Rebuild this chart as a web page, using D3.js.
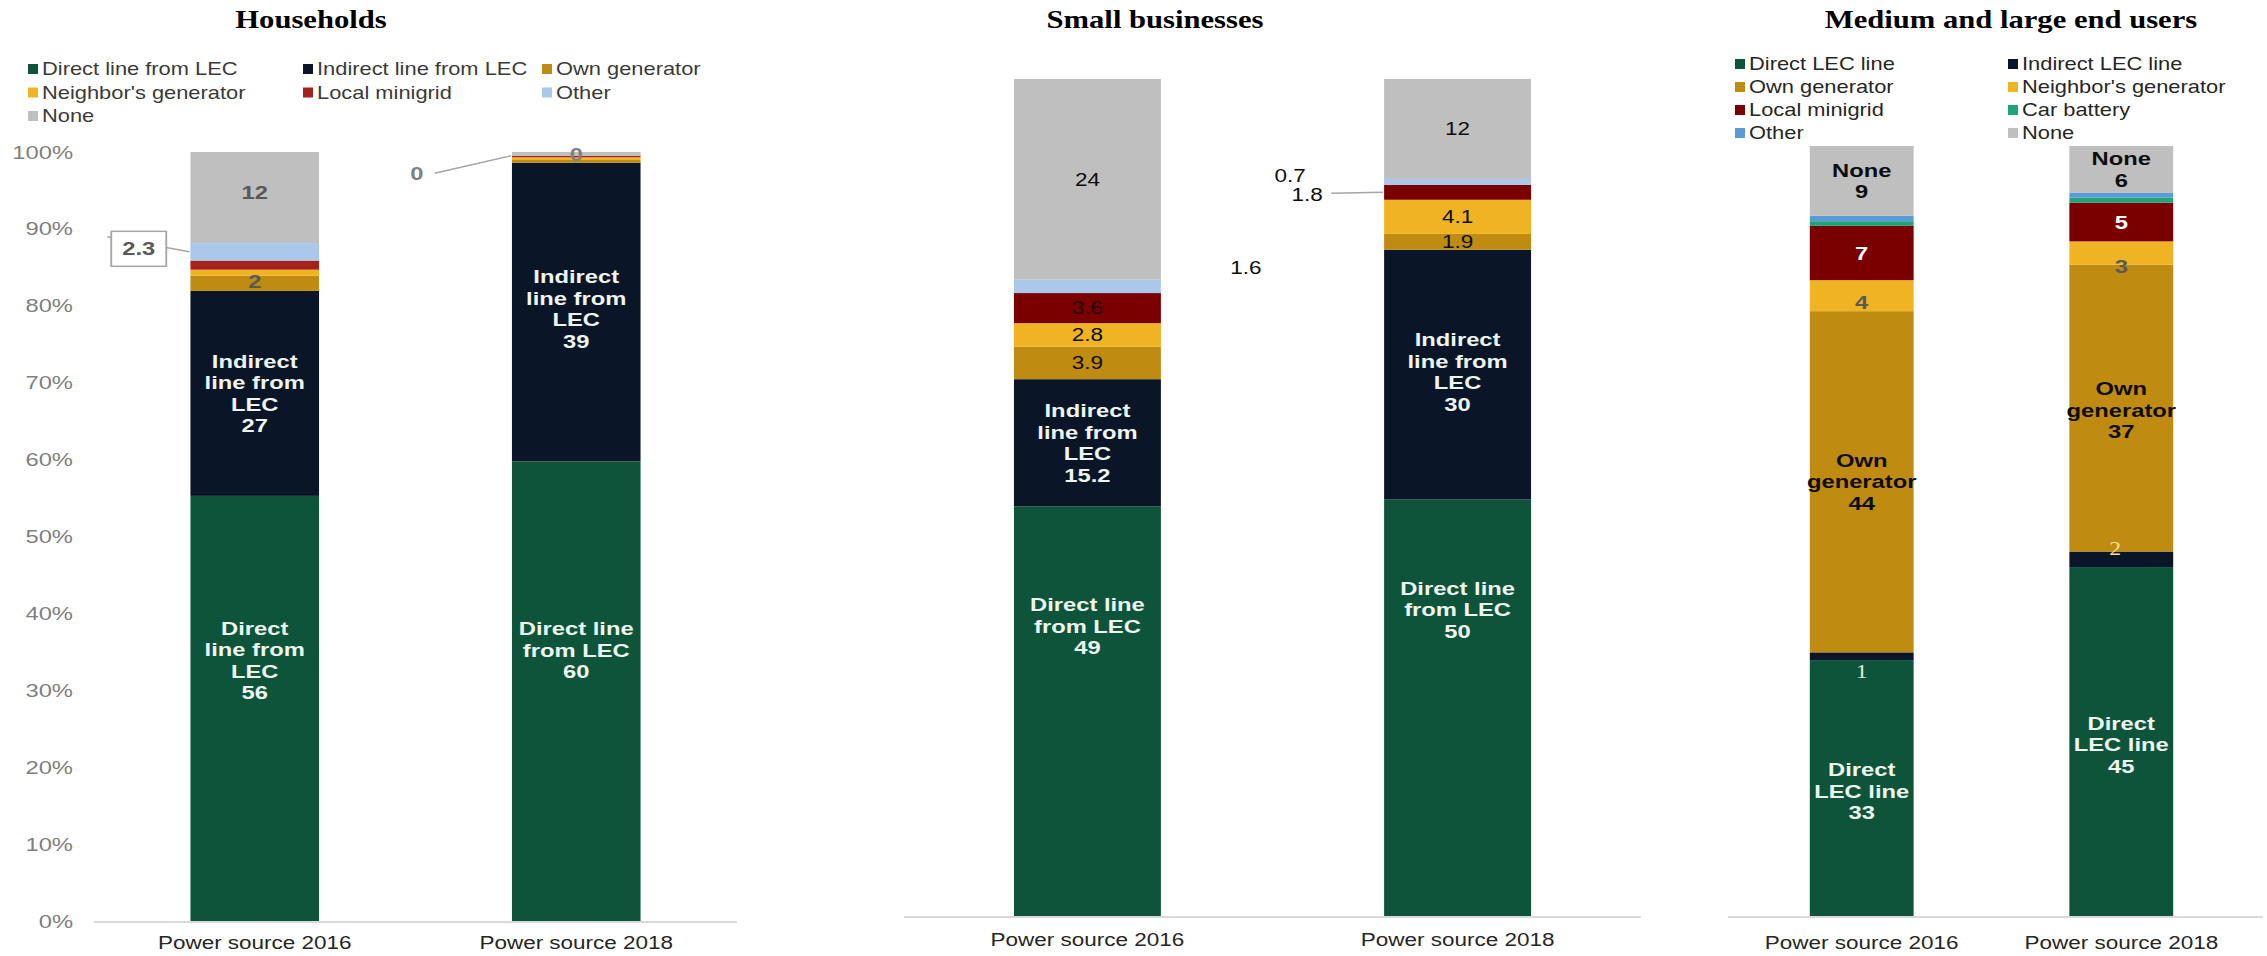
<!DOCTYPE html>
<html>
<head>
<meta charset="utf-8">
<script src="https://cdn.jsdelivr.net/npm/d3@7"></script>
<style>
  html, body { margin: 0; padding: 0; background: #fff; }
  svg { display: block; }
  text { font-family: "Liberation Sans", Arial, sans-serif; }
</style>
</head>
<body>
<svg id="chart"></svg>
<script>
// ---- data ---------------------------------------------------------------
const years = ["Power source 2016", "Power source 2018"];
const yTicks = [0, 0.1, 0.2, 0.3, 0.4, 0.5, 0.6, 0.7, 0.8, 0.9, 1];

const householdSeries = ["Direct line from LEC", "Indirect line from LEC", "Own generator",
  "Neighbor's generator", "Local minigrid", "Other", "None"];
const households2016 = [56, 27, 2, 0.8, 1.2, 2.3, 12];
const households2018 = [60, 39, 0.35, 0.35, 0.2, 0, 0.49];

const smallBizSeries = householdSeries;
const smallBiz2016 = [49, 15.2, 3.9, 2.8, 3.6, 1.6, 24];
const smallBiz2018 = [50, 30, 1.9, 4.1, 1.8, 0.7, 12];

const largeSeries = ["Direct LEC line", "Indirect  LEC line", "Own generator", "Neighbor's generator",
  "Local minigrid", "Car battery", "Other", "None"];
const large2016 = [33, 1, 44, 4, 7, 0.6, 0.7, 9];
const large2018 = [45, 2, 37, 3, 5, 0.65, 0.65, 6];

const householdColors = ["#0e543a", "#0a1628", "#bf8b10", "#f0b323", "#a3231c", "#a9c8ea", "#bfbfbf"];
const smallBizColors  = ["#0e543a", "#0a1628", "#bf8b10", "#f0b323", "#7a0000", "#a9c8ea", "#bfbfbf"];
const largeColors     = ["#0e543a", "#0a1628", "#bf8b10", "#f0b323", "#7a0000", "#1fa37a", "#5b9bd5", "#bfbfbf"];

// ---- layout -------------------------------------------------------------
const W = 2267, H = 956;
const S = 1.25;                 // horizontal stretch of the drawing
const fx = v => v / S;          // page pixels -> drawing units
const LH = 21.5;                // line height of in-bar labels

const svg = d3.select("#chart")
  .attr("width", W).attr("height", H)
  .attr("viewBox", `0 0 ${W / S} ${H}`)
  .attr("preserveAspectRatio", "none");

const styles = {
  in:    { weight: "bold",   fill: "#eef4ef", size: 19 },
  black: { weight: "bold",   fill: "#0d0d0d", size: 19 },
  white: { weight: "bold",   fill: "#ffffff", size: 19 },
  grey:  { weight: "bold",   fill: "#595959", size: 19 },
  greyL: { weight: "bold",   fill: "#808080", size: 19 },
  plain: { weight: "normal", fill: "#0d0d0d", size: 18 },
  maroon:{ weight: "normal", fill: "#1e0000", size: 18 },
  serifG:{ weight: "normal", fill: "#dcefd6", size: 19, serif: true },
  serifY:{ weight: "normal", fill: "#ffe08a", size: 19, serif: true },
  box:   { weight: "bold",   fill: "#595959", size: 19 }
};

function drawPanel(cfg) {
  const g = svg.append("g");
  const values = cfg.values;
  const keys = cfg.series.map((s, k) => k);
  const rows = years.map((yr, i) => {
    const o = { year: yr };
    keys.forEach(k => { o[k] = values[i][k]; });
    return o;
  });
  const stacked = d3.stack().keys(keys).offset(d3.stackOffsetExpand)(rows);

  const x = d3.scaleBand().domain(years)
    .range([fx(cfg.band[0]), fx(cfg.band[1])])
    .paddingInner(cfg.pi).paddingOuter(cfg.po);
  const y = d3.scaleLinear().domain([0, 1]).range([cfg.y0, cfg.y1]);

  // title
  g.append("text")
    .attr("x", fx(cfg.titleX)).attr("y", 28)
    .attr("text-anchor", "middle")
    .style("font-family", "'Liberation Serif', 'Times New Roman', serif")
    .style("font-weight", "bold").style("font-size", "24.5px")
    .attr("fill", "#000")
    .text(cfg.title);

  // stacked bars
  g.append("g").selectAll("g").data(stacked).join("g")
    .attr("fill", d => cfg.colors[d.key])
    .selectAll("rect").data(d => d).join("rect")
    .attr("x", d => x(d.data.year))
    .attr("width", x.bandwidth())
    .attr("y", d => y(d[1]))
    .attr("height", d => Math.max(0, y(d[0]) - y(d[1])));

  // baseline
  g.append("line")
    .attr("x1", fx(cfg.axis[0])).attr("x2", fx(cfg.axis[1]))
    .attr("y1", cfg.y0 + 1).attr("y2", cfg.y0 + 1)
    .attr("stroke", "#d9d9d9").attr("stroke-width", 2);

  // category axis
  const xAxis = g.append("g").attr("transform", `translate(0,${cfg.y0})`)
    .call(d3.axisBottom(x).tickSize(0).tickPadding(cfg.xPad));
  xAxis.select(".domain").remove();
  xAxis.selectAll("text")
    .style("font-family", "'Liberation Sans', Arial, sans-serif")
    .style("font-size", "18px").attr("fill", "#262626");

  // percent axis
  if (cfg.yAxis) {
    const yAxis = g.append("g").attr("transform", `translate(${fx(73)},0)`)
      .call(d3.axisLeft(y).tickValues(yTicks).tickFormat(d3.format(".0%")).tickSize(0).tickPadding(0));
    yAxis.select(".domain").remove();
    yAxis.selectAll("text")
      .style("font-family", "'Liberation Sans', Arial, sans-serif")
      .style("font-size", "19px").attr("fill", "#7f7f7f");
  }

  // legend
  if (cfg.legend) {
    const L = cfg.legend;
    const lg = g.append("g");
    cfg.series.forEach((name, k) => {
      const col = k % L.cols.length, row = Math.floor(k / L.cols.length);
      const lx = L.cols[col], ly = L.rows[row];
      lg.append("rect")
        .attr("x", fx(lx)).attr("y", ly - 5)
        .attr("width", fx(10)).attr("height", 10)
        .attr("fill", cfg.colors[k]);
      lg.append("text")
        .attr("x", fx(lx + 14)).attr("y", ly).attr("dy", "0.35em")
        .style("font-size", "17.5px").attr("fill", L.color)
        .text(name);
    });
  }

  // data labels
  const lab = g.append("g");
  cfg.labels.forEach(spec => {
    const p = stacked[spec.key][spec.year];
    const st = styles[spec.style];
    const segMid = (y(p[0]) + y(p[1])) / 2;
    const barLeft = x(years[spec.year]);
    const cx = barLeft + x.bandwidth() / 2 + fx(spec.dx || 0);
    const cy = segMid + (spec.dy || 0);
    const v = values[spec.year][spec.key];
    const valueText = spec.fmt ? spec.fmt(v) : String(v);
    const lines = (spec.lines || []).concat([valueText]);

    if (spec.leader) {
      lab.append("line")
        .attr("x1", cx + fx(spec.leader[0])).attr("y1", cy + spec.leader[1])
        .attr("x2", barLeft - fx(1)).attr("y2", segMid)
        .attr("stroke", "#a6a6a6").attr("stroke-width", 1.5);
    }
    if (spec.style === "box") {
      lab.append("rect")
        .attr("x", cx - fx(27.5)).attr("y", cy - 17.5)
        .attr("width", fx(55)).attr("height", 35)
        .attr("fill", "#fff").attr("stroke", "#a6a6a6").attr("stroke-width", 1.5);
    }
    const t = lab.append("text")
      .attr("text-anchor", "middle")
      .style("font-size", st.size + "px")
      .style("font-weight", st.weight)
      .attr("fill", st.fill);
    if (st.serif) t.style("font-family", "'Liberation Serif', 'Times New Roman', serif");
    lines.forEach((ln, i) => {
      t.append("tspan")
        .attr("x", cx)
        .attr("y", cy + (i - (lines.length - 1) / 2) * LH)
        .attr("dy", "0.35em")
        .text(ln);
    });
  });
}

// ---- panels -------------------------------------------------------------
drawPanel({
  title: "Households", titleX: 311,
  series: householdSeries, colors: householdColors,
  values: [households2016, households2018],
  band: [94, 737], pi: 0.6, po: 0.3, axis: [94, 737],
  y0: 921, y1: 152, xPad: 15, yAxis: true,
  legend: { cols: [28, 303, 542], rows: [69, 92.5, 116], color: "#3a3a3a" },
  labels: [
    { year: 0, key: 0, lines: ["Direct", "line from", "LEC"], style: "in", dy: -48 },
    { year: 1, key: 0, lines: ["Direct line", "from LEC"], style: "in", dy: -41 },
    { year: 0, key: 1, lines: ["Indirect", "line from", "LEC"], style: "in" },
    { year: 1, key: 1, lines: ["Indirect", "line from", "LEC"], style: "in", dy: -3 },
    { year: 0, key: 2, style: "grey", dy: -2 },
    { year: 0, key: 6, style: "grey", dy: -5 },
    { year: 1, key: 6, style: "greyL", fmt: d3.format(".0f") },
    { year: 0, key: 5, style: "box", dx: -116, dy: -3, leader: [-31.5, -12] },
    { year: 1, key: 5, style: "greyL", dx: -159.5, dy: 17.5, leader: [18, 0] }
  ]
});

drawPanel({
  title: "Small businesses", titleX: 1155,
  series: smallBizSeries, colors: smallBizColors,
  values: [smallBiz2016, smallBiz2018],
  band: [904, 1641], pi: 0.603, po: 0.297, axis: [904, 1641],
  y0: 916, y1: 79, xPad: 17.5, yAxis: false,
  legend: null,
  labels: [
    { year: 0, key: 0, lines: ["Direct line", "from LEC"], style: "in", dy: -85 },
    { year: 1, key: 0, lines: ["Direct line", "from LEC"], style: "in", dy: -98 },
    { year: 0, key: 1, lines: ["Indirect", "line from", "LEC"], style: "in" },
    { year: 1, key: 1, lines: ["Indirect", "line from", "LEC"], style: "in", dy: -3 },
    { year: 0, key: 2, style: "plain" },
    { year: 0, key: 3, style: "plain" },
    { year: 0, key: 4, style: "maroon" },
    { year: 0, key: 5, style: "plain", dx: 158.5, dy: -19 },
    { year: 0, key: 6, style: "plain" },
    { year: 1, key: 2, style: "plain" },
    { year: 1, key: 3, style: "plain" },
    { year: 1, key: 4, style: "plain", dx: -150.5, dy: 2, leader: [24, -1] },
    { year: 1, key: 5, style: "plain", dx: -167.5, dy: -6 },
    { year: 1, key: 6, style: "plain" }
  ]
});

drawPanel({
  title: "Medium and large end users", titleX: 2011,
  series: largeSeries, colors: largeColors,
  values: [large2016, large2018],
  band: [1720, 2263], pi: 0.6, po: 0.346, axis: [1728, 2263],
  y0: 916, y1: 146, xPad: 20.5, yAxis: false,
  legend: { cols: [1735, 2008], rows: [64, 87, 110, 133], color: "#262626" },
  labels: [
    { year: 0, key: 0, lines: ["Direct", "LEC line"], style: "in", dy: 3 },
    { year: 1, key: 0, lines: ["Direct", "LEC line"], style: "in", dy: 3 },
    { year: 0, key: 1, style: "serifG", dy: 15 },
    { year: 1, key: 1, style: "serifY", dx: -6, dy: -11 },
    { year: 0, key: 2, lines: ["Own", "generator"], style: "black" },
    { year: 1, key: 2, lines: ["Own", "generator"], style: "black", dy: 2 },
    { year: 0, key: 3, style: "grey", dy: 7 },
    { year: 1, key: 3, style: "grey", dy: 13 },
    { year: 0, key: 4, style: "white" },
    { year: 1, key: 4, style: "white" },
    { year: 0, key: 7, lines: ["None"], style: "black" },
    { year: 1, key: 7, lines: ["None"], style: "black" }
  ]
});
</script>
</body>
</html>
